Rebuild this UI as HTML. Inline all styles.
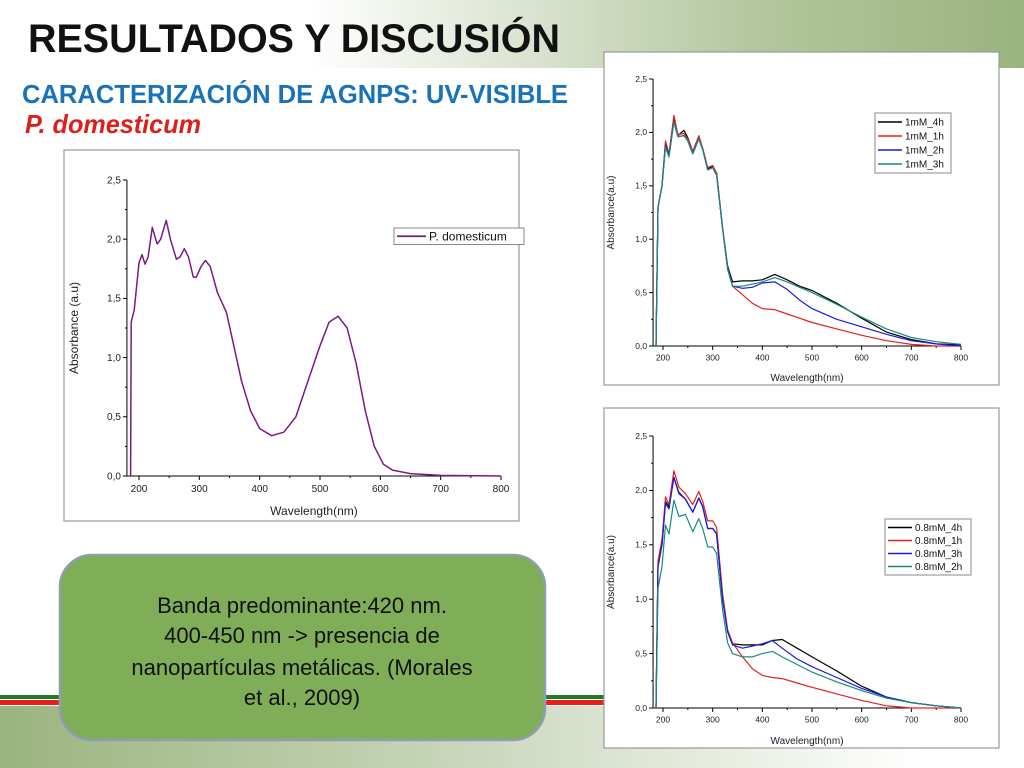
<!DOCTYPE html>
<html><head><meta charset="utf-8"><style>
html,body{margin:0;padding:0;background:#fff;}
svg{display:block;font-family:"Liberation Sans",sans-serif;}
</style></head><body>
<svg id="slide" width="1024" height="768" viewBox="0 0 1024 768" xmlns="http://www.w3.org/2000/svg">
<defs>
<linearGradient id="topg" x1="0" x2="1" y1="0" y2="0"><stop offset="0.3" stop-color="#ffffff"/><stop offset="0.75" stop-color="#b2c59c"/><stop offset="1" stop-color="#9ab47f"/></linearGradient>
<linearGradient id="botg" x1="0" x2="1" y1="0" y2="0"><stop offset="0" stop-color="#9ab47f"/><stop offset="0.45" stop-color="#c9d6ba"/><stop offset="0.9" stop-color="#ffffff"/></linearGradient>
</defs>
<rect x="0" y="0" width="1024" height="68" fill="url(#topg)"/>
<rect x="0" y="706" width="1024" height="62" fill="url(#botg)"/>
<rect x="0" y="695" width="610" height="4" fill="#1f7a2a"/>
<rect x="0" y="700" width="610" height="5" fill="#e8201c"/>
<text x="28" y="52" font-size="40" font-weight="bold" fill="#111" textLength="532" lengthAdjust="spacingAndGlyphs">RESULTADOS Y DISCUSIÓN</text>
<text x="22" y="103" font-size="26" font-weight="bold" fill="#1a72b9" textLength="546" lengthAdjust="spacingAndGlyphs">CARACTERIZACIÓN DE AGNPS: UV-VISIBLE</text>
<text x="25" y="133" font-size="26" font-weight="bold" font-style="italic" fill="#dd1f1b" textLength="176" lengthAdjust="spacingAndGlyphs">P. domesticum</text>

<g id="chartA"></g>
<g id="chartB"></g>
<g id="chartC"></g>

<rect x="60" y="555" width="485" height="185" rx="32" fill="#80ad58" stroke="#8d9fae" stroke-width="2.5"/>
<g font-size="22" fill="#111" text-anchor="middle">
<text x="302" y="613">Banda predominante:420 nm.</text>
<text x="302" y="643">400-450 nm -&gt; presencia de</text>
<text x="302" y="675">nanopartículas metálicas. (Morales</text>
<text x="302" y="705">et al., 2009)</text>
</g>
</svg>
<script>
const xTicks=[200,300,400,500,600,700,800];
const yTicks=[0,0.5,1.0,1.5,2.0,2.5];
const yTickLabels=["0,0","0,5","1,0","1,5","2,0","2,5"];

const pdX=[186,187,192,196,200,205,210,215,222,230,236,245,252,262,268,275,282,290,295,303,310,318,330,345,355,370,385,400,420,440,460,480,500,515,530,545,560,575,590,605,620,650,700,800];
const pdY=[0,1.3,1.4,1.6,1.8,1.87,1.79,1.85,2.1,1.96,2.0,2.16,2.0,1.83,1.85,1.92,1.85,1.68,1.68,1.77,1.82,1.77,1.55,1.38,1.15,0.8,0.55,0.4,0.34,0.37,0.5,0.8,1.1,1.3,1.35,1.25,0.95,0.55,0.25,0.1,0.05,0.02,0.005,0];

const mX=[186,190,198,205,212,222,230,242,250,260,272,280,290,300,308,320,330,340,360,380,400,425,450,475,500,550,600,650,700,750,800];
const m4h=[0,1.3,1.5,1.9,1.8,2.13,1.97,2.02,1.95,1.82,1.96,1.85,1.66,1.68,1.62,1.1,0.75,0.6,0.61,0.61,0.62,0.67,0.62,0.56,0.52,0.4,0.26,0.13,0.06,0.02,0.01];
const m1h=[0,1.3,1.5,1.92,1.8,2.16,1.98,1.99,1.94,1.82,1.97,1.85,1.67,1.69,1.62,1.1,0.72,0.56,0.48,0.4,0.35,0.34,0.3,0.26,0.22,0.16,0.1,0.05,0.015,0,0];
const m2h=[0,1.3,1.5,1.88,1.78,2.1,1.96,1.97,1.92,1.8,1.94,1.84,1.65,1.67,1.6,1.1,0.73,0.56,0.54,0.55,0.59,0.6,0.53,0.43,0.35,0.25,0.18,0.11,0.05,0.02,0];
const m3h=[0,1.3,1.5,1.86,1.77,2.1,1.96,1.97,1.92,1.8,1.94,1.84,1.65,1.67,1.6,1.1,0.73,0.56,0.56,0.58,0.6,0.64,0.6,0.55,0.5,0.39,0.27,0.16,0.08,0.04,0.015];

const nX=[186,190,198,205,212,222,232,245,260,272,280,290,300,308,320,330,340,360,380,400,420,440,470,500,550,600,650,700,750,800];
const n4h=[0,1.3,1.5,1.9,1.85,2.12,1.98,1.92,1.8,1.93,1.85,1.65,1.65,1.6,1.0,0.7,0.59,0.58,0.58,0.58,0.62,0.63,0.55,0.47,0.34,0.2,0.1,0.05,0.02,0];
const n1h=[0,1.35,1.55,1.94,1.87,2.18,2.03,1.97,1.87,1.99,1.9,1.72,1.72,1.66,1.05,0.72,0.6,0.47,0.36,0.3,0.28,0.27,0.23,0.19,0.13,0.07,0.02,0,0,0];
const n3h=[0,1.3,1.5,1.88,1.83,2.12,1.97,1.92,1.8,1.93,1.85,1.65,1.65,1.6,1.0,0.7,0.58,0.55,0.57,0.59,0.62,0.55,0.45,0.38,0.28,0.18,0.1,0.05,0.02,0];
const n2h=[0,1.1,1.3,1.68,1.6,1.91,1.76,1.78,1.62,1.74,1.65,1.48,1.48,1.42,0.9,0.6,0.5,0.47,0.47,0.5,0.52,0.47,0.4,0.33,0.24,0.16,0.09,0.05,0.02,0];

const NS="http://www.w3.org/2000/svg";
function mk(parent,tag,attrs){const e=document.createElementNS(NS,tag);for(const k in attrs)e.setAttribute(k,attrs[k]);parent.appendChild(e);return e;}

function drawChart(g,cfg,series){
  const frame=mk(g,'rect',{x:cfg.fx,y:cfg.fy,width:cfg.fw,height:cfg.fh,fill:'#fff',stroke:'#9a9a9a','stroke-width':1.2});
  
  
  const sx=v=>cfg.x200+(v-200)*(cfg.x800-cfg.x200)/600;
  const sy=v=>cfg.y0+(v)*(cfg.y25-cfg.y0)/2.5;
  const axisX=sx(180);
  const ya=mk(g,'line',{x1:axisX,y1:cfg.y25,x2:axisX,y2:cfg.y0,stroke:'#000','stroke-width':1});
  
  
  const xa=mk(g,'line',{x1:axisX,y1:cfg.y0,x2:sx(800),y2:cfg.y0,stroke:'#000','stroke-width':1});
  
  
  yTicks.forEach((t,i)=>{
    const y=sy(t);
    const tk=mk(g,'line',{x1:axisX-4,y1:y,x2:axisX,y2:y,stroke:'#000'});
    
    
    if(i<yTicks.length-1){const m=mk(g,'line',{x1:axisX-2,y1:sy(t+0.25),x2:axisX,y2:sy(t+0.25),stroke:'#000'});
      
      }
    const lb=mk(g,'text',{x:axisX-6,y:y+cfg.fs/3,'font-size':cfg.fs,'text-anchor':'end',fill:'#222'});
    lb.textContent=yTickLabels[i];
    
    
  });
  xTicks.forEach((t,i)=>{
    const x=sx(t);
    const tk=mk(g,'line',{x1:x,y1:cfg.y0,x2:x,y2:cfg.y0+4,stroke:'#000'});
    
    
    if(i<xTicks.length-1){const m=mk(g,'line',{x1:sx(t+50),y1:cfg.y0,x2:sx(t+50),y2:cfg.y0+2,stroke:'#000'});
      
      }
    const lb=mk(g,'text',{x:x,y:cfg.y0+6+cfg.fs,'font-size':cfg.fs,'text-anchor':'middle',fill:'#222'});
    lb.textContent=String(t);
    
    
  });
  const xt=mk(g,'text',{x:(sx(180)+sx(800))/2,y:cfg.y0+cfg.xtOff,'font-size':cfg.tfs,'text-anchor':'middle',fill:'#222'});
  xt.textContent='Wavelength(nm)';
  
  
  const ym=(cfg.y0+cfg.y25)/2, yx=cfg.fx+cfg.ytOff;
  const yt=mk(g,'text',{x:yx,y:ym,'font-size':cfg.tfs,'text-anchor':'middle',fill:'#222',transform:`rotate(-90 ${yx} ${ym})`});
  yt.textContent=cfg.ytitle;
  
  
  series.forEach(s=>{
    const d=s.x.map((v,i)=>(i?'L':'M')+sx(v).toFixed(1)+' '+sy(s.y[i]).toFixed(1)).join(' ');
    const p=mk(g,'path',{d:d,fill:'none',stroke:s.c,'stroke-width':cfg.lw,'stroke-linejoin':'round'});
    
    
  });
  const L=cfg.leg;
  const lbox=mk(g,'rect',{x:L.x,y:L.y,width:L.w,height:L.rh*series.length+4,fill:'#fff',stroke:'#888'});
  
  
  series.forEach((s,i)=>{
    const yy=L.y+2+L.rh*(i+0.5);
    const ln=mk(g,'line',{x1:L.x+3,y1:yy,x2:L.x+L.lineW,y2:yy,stroke:s.c,'stroke-width':cfg.lw+0.3});
    
    
    const t=mk(g,'text',{x:L.x+L.lineW+3,y:yy+cfg.lfs/3,'font-size':cfg.lfs,fill:'#111'});
    t.textContent=s.n;
    
    
  });
}

drawChart(document.getElementById('chartA'),
 {fx:64,fy:150,fw:455,fh:371,x200:139,x800:501,y0:476,y25:180,fs:10,tfs:12,lfs:12,xtOff:39,ytOff:14,ytitle:'Absorbance (a.u)',lw:1.5,
  leg:{x:394,y:228,w:130,rh:12.5,lineW:32}},
 [{n:'P. domesticum',x:pdX,y:pdY,c:'#7b1a7f'}]);

drawChart(document.getElementById('chartB'),
 {fx:604,fy:52,fw:395,fh:333,x200:663,x800:961,y0:346,y25:79,fs:8.5,tfs:10,lfs:10,xtOff:35,ytOff:10,ytitle:'Absorbance(a.u)',lw:1.2,
  leg:{x:875,y:113,w:76,rh:14,lineW:27}},
 [{n:'1mM_4h',x:mX,y:m4h,c:'#000'},{n:'1mM_1h',x:mX,y:m1h,c:'#e2211c'},{n:'1mM_2h',x:mX,y:m2h,c:'#1a1ae0'},{n:'1mM_3h',x:mX,y:m3h,c:'#1a8a7a'}]);

drawChart(document.getElementById('chartC'),
 {fx:604,fy:408,fw:395,fh:340,x200:663,x800:961,y0:708,y25:436,fs:8.5,tfs:10,lfs:10,xtOff:36,ytOff:10,ytitle:'Absorbance(a.u)',lw:1.2,
  leg:{x:885,y:519,w:86,rh:13,lineW:27}},
 [{n:'0.8mM_4h',x:nX,y:n4h,c:'#000'},{n:'0.8mM_1h',x:nX,y:n1h,c:'#e2211c'},{n:'0.8mM_3h',x:nX,y:n3h,c:'#1a1ae0'},{n:'0.8mM_2h',x:nX,y:n2h,c:'#1a8a7a'}]);
</script>
</body></html>
